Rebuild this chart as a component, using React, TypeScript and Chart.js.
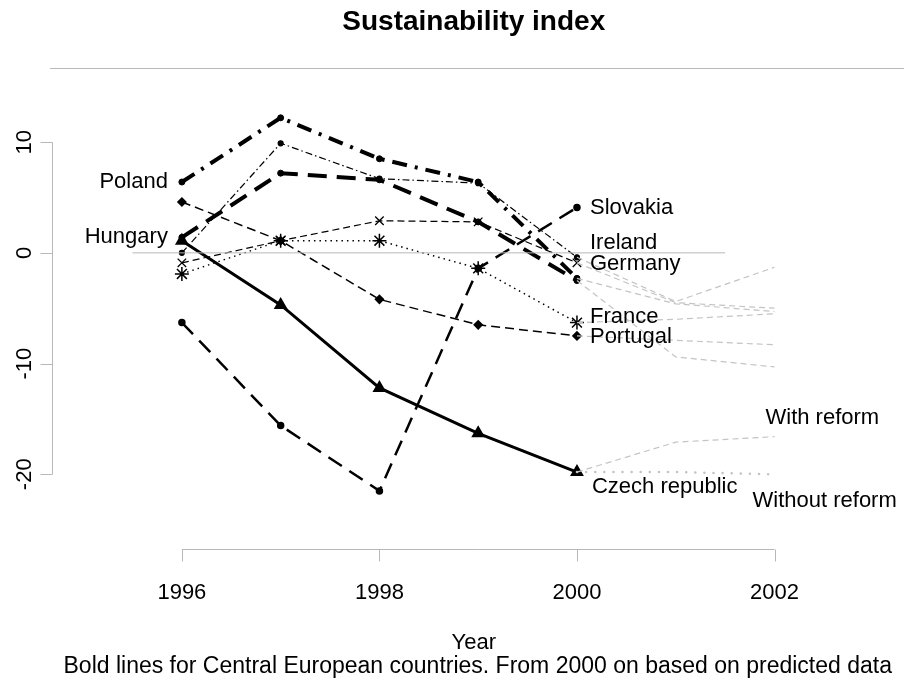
import React, { useEffect, useRef } from "react";
import { Chart, registerables } from "chart.js";

Chart.register(...registerables);

// ---------- data ----------
const YEARS = [1996, 1997, 1998, 1999, 2000];
const PRED_YEARS = [2000, 2001, 2002];

const POLAND = [6.4, 12.2, 8.5, 6.4, -2.3];
const HUNGARY = [1.4, 7.2, 6.6, 2.8, -2.5];
const CZECH = [1.1, -4.7, -12.2, -16.3, -19.8];
const SLOVAKIA = [-6.3, -15.6, -21.5, -1.4, 4.1];
const IRELAND = [0.0, 9.9, 6.7, 6.3, -0.4];
const GERMANY = [-0.9, 1.1, 2.9, 2.8, -0.9];
const FRANCE = [-1.9, 1.1, 1.1, -1.4, -6.3];
const PORTUGAL = [4.6, 1.1, -4.2, -6.5, -7.5];

const IRELAND_PRED = [-0.4, -4.4, -1.3];
const GERMANY_PRED = [-0.9, -4.5, -5.0];
const POLAND_PRED = [-2.3, -4.6, -5.3];
const HUNGARY_PRED = [-2.5, -9.4, -10.3];
const FRANCE_PRED = [-6.3, -6.0, -5.5];
const PORTUGAL_PRED = [-7.5, -7.9, -8.3];
const CZECH_WITH_REFORM = [-19.8, -17.1, -16.6];
const CZECH_WITHOUT_REFORM = [-19.8, -19.8, -20.0];

const ZERO_LINE_X = [1995.5, 2001.5];
const ZERO_LINE_Y = [0, 0];

const X_TICKS = [1996, 1998, 2000, 2002];
const Y_TICKS = [10, 0, -10, -20];

const TITLE = "Sustainability index";
const X_TITLE = "Year";
const SUBTITLE =
  "Bold lines for Central European countries. From 2000 on based on predicted data";

// series labels: text, anchor year, anchor value
const LABEL_TEXT = [
  "Poland",
  "Hungary",
  "Slovakia",
  "Ireland",
  "Germany",
  "France",
  "Portugal",
  "Czech republic",
  "With reform",
  "Without reform",
];
const LABEL_YEAR = [1996, 1996, 2000, 2000, 2000, 2000, 2000, 2000, 2002, 2002];
const LABEL_VALUE = [
  POLAND[0],
  HUNGARY[0],
  SLOVAKIA[4],
  IRELAND[4],
  GERMANY[4],
  FRANCE[4],
  PORTUGAL[4],
  CZECH[4],
  CZECH_WITH_REFORM[2],
  CZECH_WITHOUT_REFORM[2],
];
// layout of the labels (pixel offsets from anchor), kept apart from data
const LABEL_LAYOUT = [
  { dx: -14, dy: 0, align: "right" },
  { dx: -14, dy: 0, align: "right" },
  { dx: 13, dy: 0, align: "left" },
  { dx: 13, dy: -14, align: "left" },
  { dx: 13, dy: 1, align: "left" },
  { dx: 13, dy: -6, align: "left" },
  { dx: 13, dy: 1, align: "left" },
  { dx: 15, dy: 15, align: "left" },
  { dx: -9, dy: -19, align: "left" },
  { dx: -22, dy: 27, align: "left" },
];

const FONT = "'Liberation Sans', Arial, sans-serif";
const AXIS_GRAY = "#b8b8b8";
const PRED_GRAY = "#c4c4c4";

const pts = (xs: number[], ys: number[]) => xs.map((x, i) => ({ x, y: ys[i] }));

const rPlugin = {
  id: "rStyle",
  afterDraw(chart: any) {
    const { ctx, chartArea } = chart;
    const x = chart.scales.x;
    const y = chart.scales.y;
    ctx.save();

    // top rule
    ctx.strokeStyle = AXIS_GRAY;
    ctx.lineWidth = 1;
    ctx.beginPath();
    ctx.moveTo(chartArea.left - 2, Math.round(chartArea.top) + 0.5);
    ctx.lineTo(chart.width, Math.round(chartArea.top) + 0.5);
    ctx.stroke();

    // x axis
    const xBase = Math.round(chartArea.bottom) + 0.5;
    ctx.beginPath();
    ctx.moveTo(x.getPixelForValue(X_TICKS[0]), xBase);
    ctx.lineTo(x.getPixelForValue(X_TICKS[X_TICKS.length - 1]), xBase);
    X_TICKS.forEach((t) => {
      const px = Math.round(x.getPixelForValue(t)) + 0.5;
      ctx.moveTo(px, xBase);
      ctx.lineTo(px, xBase + 12);
    });
    ctx.stroke();

    // y axis
    const yBase = Math.round(chartArea.left) + 0.5;
    ctx.beginPath();
    ctx.moveTo(yBase, y.getPixelForValue(Y_TICKS[0]));
    ctx.lineTo(yBase, y.getPixelForValue(Y_TICKS[Y_TICKS.length - 1]));
    Y_TICKS.forEach((t) => {
      const py = Math.round(y.getPixelForValue(t)) + 0.5;
      ctx.moveTo(yBase, py);
      ctx.lineTo(yBase - 12, py);
    });
    ctx.stroke();

    ctx.fillStyle = "#000";
    ctx.font = `22px ${FONT}`;
    ctx.textAlign = "center";
    ctx.textBaseline = "middle";
    X_TICKS.forEach((t) => {
      ctx.fillText(String(t), x.getPixelForValue(t), xBase + 43);
    });
    Y_TICKS.forEach((t) => {
      ctx.save();
      ctx.translate(yBase - 28, y.getPixelForValue(t));
      ctx.rotate(-Math.PI / 2);
      ctx.fillText(String(t), 0, 0);
      ctx.restore();
    });

    const midX = (chartArea.left + chartArea.right) / 2;
    ctx.fillText(X_TITLE, midX, 643);
    ctx.font = `23px ${FONT}`;
    ctx.fillText(SUBTITLE, midX + 4, 667);

    ctx.font = `bold 28px ${FONT}`;
    ctx.fillText(TITLE, midX, 22);

    // series labels
    ctx.font = `22px ${FONT}`;
    LABEL_TEXT.forEach((txt, i) => {
      const L = LABEL_LAYOUT[i];
      ctx.textAlign = L.align as CanvasTextAlign;
      ctx.fillText(
        txt,
        x.getPixelForValue(LABEL_YEAR[i]) + L.dx,
        y.getPixelForValue(LABEL_VALUE[i]) + L.dy
      );
    });

    ctx.restore();
  },
};

export default function App() {
  const ref = useRef<HTMLCanvasElement | null>(null);

  useEffect(() => {
    document.body.style.margin = "0";
    const canvas = ref.current;
    if (!canvas) return;

    const pred = (data: number[]) => ({
      data: pts(PRED_YEARS, data),
      borderColor: PRED_GRAY,
      borderWidth: 1.2,
      borderDash: [6, 4],
      pointRadius: 0,
    });

    const chart = new Chart(canvas, {
      type: "line",
      data: {
        datasets: [
          {
            data: pts(ZERO_LINE_X, ZERO_LINE_Y),
            borderColor: AXIS_GRAY,
            borderWidth: 1,
            pointRadius: 0,
          },
          pred(IRELAND_PRED),
          pred(GERMANY_PRED),
          pred(POLAND_PRED),
          pred(HUNGARY_PRED),
          pred(FRANCE_PRED),
          pred(PORTUGAL_PRED),
          pred(CZECH_WITH_REFORM),
          {
            data: pts(PRED_YEARS, CZECH_WITHOUT_REFORM),
            borderColor: PRED_GRAY,
            borderWidth: 2.5,
            borderDash: [0.1, 9],
            borderCapStyle: "round",
            pointRadius: 0,
          },
          {
            data: pts(YEARS, PORTUGAL),
            borderColor: "#000",
            borderWidth: 1.5,
            borderDash: [9, 5],
            pointStyle: "rectRot",
            pointRadius: 4,
            pointBackgroundColor: "#000",
            pointBorderColor: "#000",
          },
          {
            data: pts(YEARS, FRANCE),
            borderColor: "#000",
            borderWidth: 1.5,
            borderDash: [1.5, 4],
            pointStyle: "star",
            pointRadius: 7,
            pointBorderWidth: 1.5,
            pointBorderColor: "#000",
          },
          {
            data: pts(YEARS, GERMANY),
            borderColor: "#000",
            borderWidth: 1.2,
            borderDash: [7, 4],
            pointStyle: "crossRot",
            pointRadius: 6,
            pointBorderWidth: 1.3,
            pointBorderColor: "#000",
          },
          {
            data: pts(YEARS, IRELAND),
            borderColor: "#000",
            borderWidth: 1.2,
            borderDash: [7, 3, 1.5, 3],
            pointStyle: "circle",
            pointRadius: 2.5,
            pointBackgroundColor: "#000",
            pointBorderColor: "#000",
          },
          {
            data: pts(YEARS, SLOVAKIA),
            borderColor: "#000",
            borderWidth: 2.5,
            borderDash: [16, 9],
            pointStyle: "circle",
            pointRadius: 2.5,
            pointBackgroundColor: "#000",
            pointBorderColor: "#000",
          },
          {
            data: pts(YEARS, CZECH),
            borderColor: "#000",
            borderWidth: 3,
            pointStyle: "triangle",
            pointRadius: 5,
            pointBackgroundColor: "#000",
            pointBorderColor: "#000",
          },
          {
            data: pts(YEARS, HUNGARY),
            borderColor: "#000",
            borderWidth: 4,
            borderDash: [19, 10],
            pointStyle: "circle",
            pointRadius: 3,
            pointBorderWidth: 1,
            pointBackgroundColor: "#000",
            pointBorderColor: "#000",
          },
          {
            data: pts(YEARS, POLAND),
            borderColor: "#000",
            borderWidth: 4,
            borderDash: [15, 8, 3, 8],
            pointStyle: "circle",
            pointRadius: 3,
            pointBorderWidth: 1,
            pointBackgroundColor: "#000",
            pointBorderColor: "#000",
          },
        ],
      },
      options: {
        animation: false,
        responsive: false,
        devicePixelRatio: 1,
        layout: { padding: { left: 52, right: 0, top: 68, bottom: 135 } },
        plugins: {
          legend: { display: false },
          tooltip: { enabled: false },
          title: { display: false },
        },
        elements: { line: { tension: 0 } },
        scales: {
          x: { type: "linear", min: 1994.685, max: 2003.225, display: false },
          y: { type: "linear", min: -26.75, max: 16.7, display: false },
        },
      },
      plugins: [rPlugin],
    } as any);

    return () => chart.destroy();
  }, []);

  return (
    <canvas
      ref={ref}
      width={904}
      height={684}
      style={{ display: "block", width: 904, height: 684 }}
    />
  );
}
